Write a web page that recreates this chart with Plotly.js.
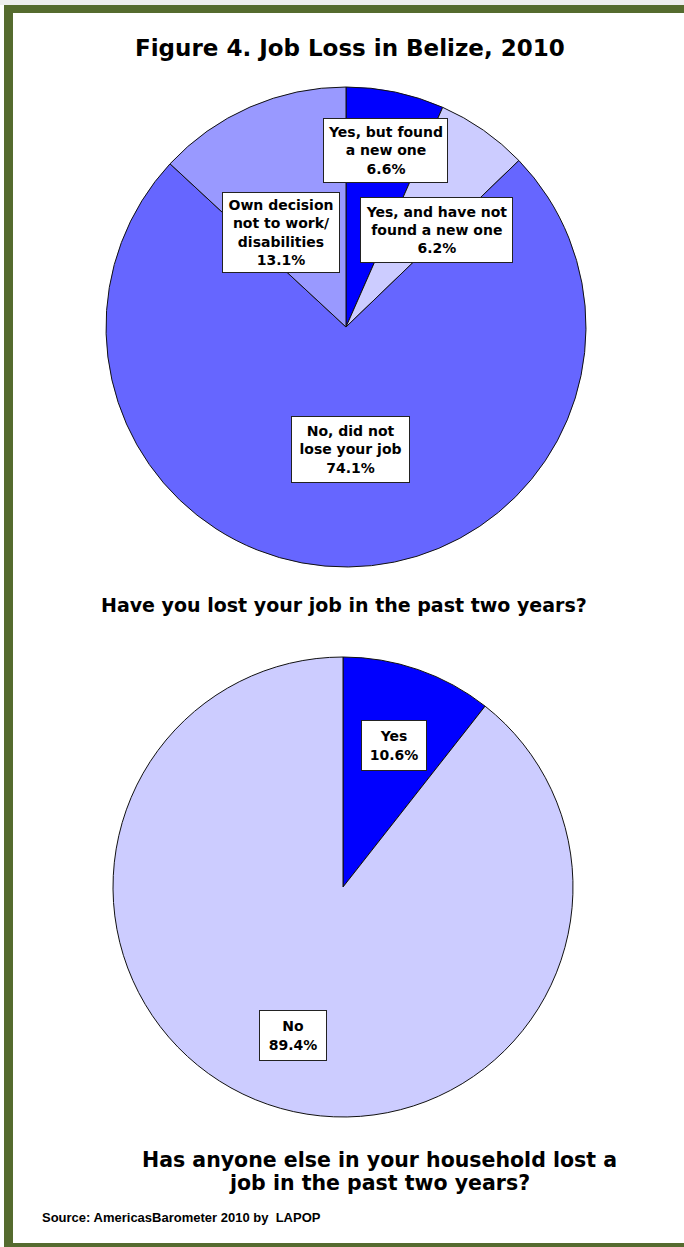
<!DOCTYPE html>
<html>
<head>
<meta charset="utf-8">
<script src="https://cdn.plot.ly/plotly-3.0.1.min.js"></script>
<style>
html,body{margin:0;padding:0;background:#fff;}
#chart{width:684px;height:1247px;}
</style>
</head>
<body>
<div id="chart"></div>
<script>
// ---- data ----
const chartTitle = "Figure 4. Job Loss in Belize, 2010";
const q1Question = "Have you lost your job in the past two years?";
const q1Labels = ["Yes, but found<br>a new one", "Yes, and have not<br>found a new one", "No, did not<br>lose your job", "Own decision<br>not to work/<br>disabilities"];
const q1Values = [6.6, 6.2, 74.1, 13.1];
const q1Colors = ["#0000FF", "#CCCCFF", "#6666FF", "#9999FF"];
const q2QuestionLines = ["Has anyone else in your household lost a", "job in the past two years?"];
const q2Labels = ["Yes", "No"];
const q2Values = [10.6, 89.4];
const q2Colors = ["#0000FF", "#CCCCFF"];
const sourceText = "Source: AmericasBarometer 2010 by \u00a0LAPOP";

// ---- layout helpers (pixel -> paper) ----
const W = 684, H = 1247;
const px = x => x / W;
const py = y => 1 - y / H;
const FONT = "DejaVu Sans, Verdana, sans-serif";
const FONT2 = "Liberation Sans, Arial, sans-serif";

const q1Boxes = [
  {cx: 385, cy: 150, w: 123, h: 63},
  {cx: 437, cy: 230, w: 151, h: 64},
  {cx: 350, cy: 450, w: 117, h: 65},
  {cx: 281, cy: 232, w: 116, h: 79}
];
const q2Boxes = [
  {cx: 394, cy: 745, w: 64, h: 49},
  {cx: 293, cy: 1035, w: 66, h: 49}
];

function labelAnn(label, value, b) {
  return {
    xref: "paper", yref: "paper",
    x: px(b.cx), y: py(b.cy), xanchor: "center", yanchor: "middle",
    text: "<b>" + label + "<br>" + value.toFixed(1) + "%</b>",
    showarrow: false,
    bgcolor: "#FFFFFF", bordercolor: "#222222", borderwidth: 1, borderpad: 0,
    width: b.w, height: b.h, align: "center", valign: "middle",
    font: {family: FONT, size: 14, color: "#000"}
  };
}

const traces = [
  {
    type: "pie", labels: q1Labels, values: q1Values, sort: false,
    direction: "clockwise", rotation: 0, textinfo: "none", hoverinfo: "label+value",
    marker: {colors: q1Colors, line: {color: "#111", width: 1}},
    domain: {x: [px(106), px(586)], y: [py(567), py(87)]},
    showlegend: false
  },
  {
    type: "pie", labels: q2Labels, values: q2Values, sort: false,
    direction: "clockwise", rotation: 0, textinfo: "none", hoverinfo: "label+value",
    marker: {colors: q2Colors, line: {color: "#111", width: 1}},
    domain: {x: [px(113), px(573)], y: [py(1117), py(657)]},
    showlegend: false
  }
];

const annotations = [];
q1Labels.forEach((l, i) => annotations.push(labelAnn(l, q1Values[i], q1Boxes[i])));
q2Labels.forEach((l, i) => annotations.push(labelAnn(l, q2Values[i], q2Boxes[i])));
annotations.push({
  xref: "paper", yref: "paper", x: px(350), y: py(48), xanchor: "center", yanchor: "middle",
  text: "<b>" + chartTitle + "</b>", showarrow: false,
  font: {family: FONT, size: 23, color: "#000"}
});
annotations.push({
  xref: "paper", yref: "paper", x: px(344), y: py(605), xanchor: "center", yanchor: "middle",
  text: "<b>" + q1Question + "</b>", showarrow: false,
  font: {family: FONT, size: 19, color: "#000"}
});
const q2LineY = [1160, 1183];
q2QuestionLines.forEach((t, i) => annotations.push({
  xref: "paper", yref: "paper", x: px(379), y: py(q2LineY[i]), xanchor: "center", yanchor: "middle",
  text: "<b>" + t + "</b>", showarrow: false, align: "center",
  font: {family: FONT, size: 20.5, color: "#000"}
}));
annotations.push({
  xref: "paper", yref: "paper", x: px(40), y: py(1217), xanchor: "left", yanchor: "middle",
  text: "<b>" + sourceText + "</b>", showarrow: false,
  font: {family: FONT2, size: 13, color: "#000"}
});

const green = "#556B2F";
const shapes = [
  {type: "rect", xref: "paper", yref: "paper", x0: 0, x1: 1, y0: py(5), y1: 1, fillcolor: "#EEEEEE", line: {width: 0}, layer: "below"},
  {type: "rect", xref: "paper", yref: "paper", x0: px(4), x1: px(13), y0: 0, y1: py(5), fillcolor: green, line: {width: 0}},
  {type: "rect", xref: "paper", yref: "paper", x0: px(4), x1: 1, y0: py(13), y1: py(5), fillcolor: green, line: {width: 0}},
  {type: "rect", xref: "paper", yref: "paper", x0: px(4), x1: 1, y0: 0, y1: py(1243), fillcolor: green, line: {width: 0}}
];

const layout = {
  width: W, height: H,
  margin: {l: 0, r: 0, t: 0, b: 0},
  paper_bgcolor: "#FFFFFF",
  showlegend: false,
  annotations: annotations,
  shapes: shapes,
  font: {family: FONT}
};

Plotly.newPlot("chart", traces, layout, {displayModeBar: false, staticPlot: true});
</script>
</body>
</html>
